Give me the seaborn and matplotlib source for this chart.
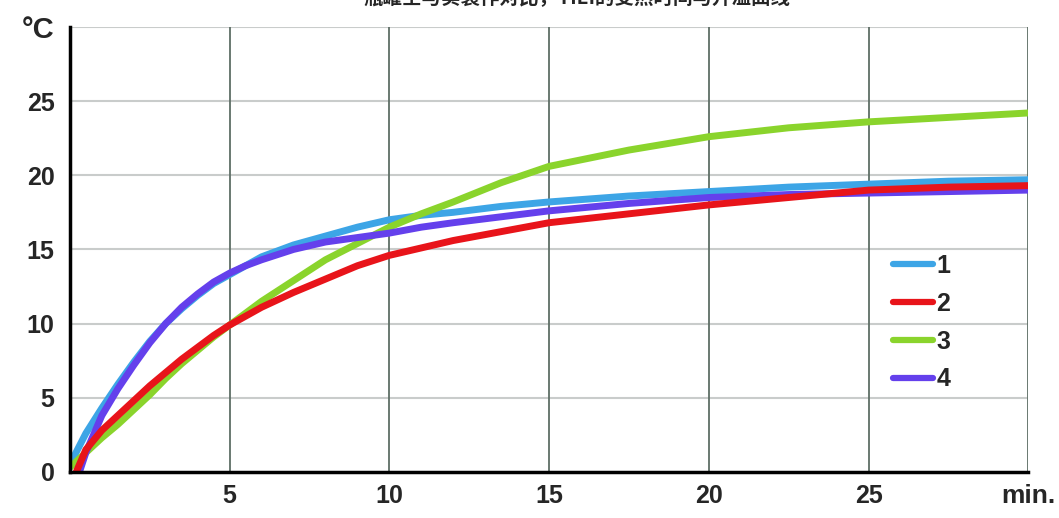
import numpy as np
import pandas as pd
import seaborn as sns
import matplotlib
matplotlib.use("Agg")
import matplotlib.pyplot as plt

# readings (minutes, degrees C)
t_blue = [0, 0.5, 1, 1.5, 2, 2.5, 3, 3.5, 4, 4.5, 5, 5.5, 6, 7, 8, 9, 10, 11, 12, 13.5, 15, 17.5, 20, 22.5, 25, 27.5, 30]
y_blue = [0.5, 2.6, 4.3, 5.9, 7.4, 8.8, 10.0, 11.0, 11.9, 12.7, 13.3, 13.9, 14.5, 15.3, 15.9, 16.5, 17.0, 17.3, 17.5, 17.9, 18.2, 18.6, 18.9, 19.2, 19.4, 19.6, 19.7]

t_red = [0.2, 0.5, 1, 1.5, 2, 2.5, 3, 3.5, 4, 4.5, 5, 5.5, 6, 7, 8, 9, 10, 11, 12, 13.5, 15, 17.5, 20, 22.5, 25, 27.5, 30]
y_red = [0.0, 1.5, 2.8, 3.8, 4.8, 5.8, 6.7, 7.6, 8.4, 9.2, 9.9, 10.5, 11.1, 12.1, 13.0, 13.9, 14.6, 15.1, 15.6, 16.2, 16.8, 17.4, 18.0, 18.5, 19.0, 19.2, 19.3]

t_green = [0, 0.5, 1, 1.5, 2, 2.5, 3, 3.5, 4, 4.5, 5, 5.5, 6, 7, 8, 9, 10, 11, 12, 13.5, 15, 17.5, 20, 22.5, 25, 27.5, 30]
y_green = [0.3, 1.3, 2.3, 3.2, 4.2, 5.2, 6.3, 7.3, 8.2, 9.1, 9.9, 10.7, 11.5, 12.9, 14.3, 15.4, 16.5, 17.4, 18.2, 19.5, 20.6, 21.7, 22.6, 23.2, 23.6, 23.9, 24.2]

t_purple = [0.3, 0.5, 1, 1.5, 2, 2.5, 3, 3.5, 4, 4.5, 5, 5.5, 6, 7, 8, 9, 10, 11, 12, 13.5, 15, 17.5, 20, 22.5, 25, 27.5, 30]
y_purple = [0.0, 1.3, 3.8, 5.6, 7.2, 8.7, 10.0, 11.1, 12.0, 12.8, 13.4, 13.9, 14.3, 15.0, 15.5, 15.8, 16.1, 16.5, 16.8, 17.2, 17.6, 18.1, 18.5, 18.7, 18.8, 18.9, 19.0]

series_names = ["1", "2", "3", "4"]
colors = ["#3da5e6", "#e8141a", "#8ad42c", "#6440ec"]
x_ticks = [0, 5, 10, 15, 20, 25, 30]
x_labels = ["", "5", "10", "15", "20", "25", "min."]
y_ticks = [0, 5, 10, 15, 20, 25, 30]
y_labels = ["0", "5", "10", "15", "20", "25", "°C"]
title = "瓶罐空与实装作对比，TIEI的受热时间与升温曲线"

sns.set_style("white")
plt.rcParams['font.family'] = ['Liberation Sans', 'Noto Sans CJK SC', 'DejaVu Sans']

fig = plt.figure(figsize=(10.59, 5.18), dpi=100)
ax = fig.add_axes([0.066, 0.089, 0.905, 0.859])

data = [(t_blue, y_blue), (t_red, y_red), (t_green, y_green), (t_purple, y_purple)]
zorders = [3, 5, 4, 4.5]
for (tt, yy), name, c, z in zip(data, series_names, colors, zorders):
    df = pd.DataFrame({"t": tt, "temp": yy})
    sns.lineplot(data=df, x="t", y="temp", ax=ax, color=c, linewidth=5,
                 label=name, zorder=z, solid_capstyle="round", solid_joinstyle="round")

ax.set_xlim(0, 30)
ax.set_ylim(0, 30)
ax.set_xticks(x_ticks)
ax.set_xticklabels(x_labels)
ax.set_yticks(y_ticks)
ax.set_yticklabels(y_labels)
ax.set_xlabel("")
ax.set_ylabel("")

# grid: light horizontal, darker vertical
for yv in y_ticks[1:]:
    ax.axhline(yv, color="#c9cccb", linewidth=1.5, zorder=1)
for xv in x_ticks[1:]:
    ax.axvline(xv, color="#5e6e66", linewidth=1.3, zorder=1)

for s in ["top", "right"]:
    ax.spines[s].set_visible(False)
for s in ["left", "bottom"]:
    ax.spines[s].set_color("black")
    ax.spines[s].set_linewidth(2.5)
    ax.spines[s].set_zorder(6)

ax.tick_params(axis="y", length=5, width=2, color="black", pad=6, labelsize=18)
ax.tick_params(axis="x", length=5, width=1.5, color="black", pad=4, labelsize=18)
for lbl in ax.get_xticklabels() + ax.get_yticklabels():
    lbl.set_fontweight("bold")
ax.get_xticklabels()[-1].set_fontsize(19)
ax.get_yticklabels()[-1].set_fontsize(21)

leg = ax.legend(loc="center left", bbox_to_anchor=(0.835, 0.335), frameon=False,
                handlelength=1.6, handletextpad=0.15, labelspacing=0.55,
                prop={"weight": "bold", "size": 18})
for h in leg.get_lines():
    h.set_linewidth(4.5)

fig.text(0.545, 1.003, title, ha="center", va="center", fontsize=14,
         fontweight="bold", family=["Noto Sans CJK SC", "DejaVu Sans"])

fig.savefig("out.png", dpi=100)
